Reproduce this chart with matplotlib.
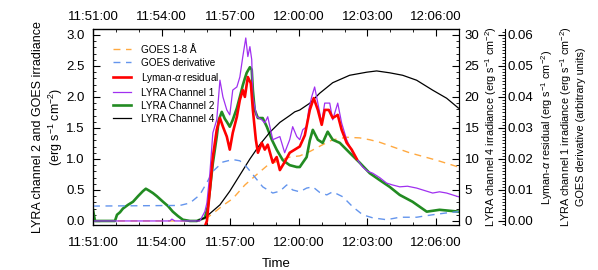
import matplotlib
matplotlib.use('Agg')
import matplotlib.pyplot as plt
from matplotlib.ticker import MultipleLocator, FuncFormatter

# time axis: minutes after 11:51:00
goes_t = [0, 4.67, 4.98, 5.24, 5.68, 6.11, 6.64, 7.16, 7.64, 8.17, 8.60, 9.04, 9.48,
          10.04, 10.48, 11.09, 11.66, 12.10, 12.53, 13.84, 15.02, 15.98]
goes = [0, 0, 0.05, 0.12, 0.25, 0.36, 0.58, 0.75, 0.90, 0.98, 1.03, 1.05, 1.12,
        1.23, 1.31, 1.35, 1.34, 1.31, 1.27, 1.10, 0.98, 0.87]

deriv_t = [0, 3.80, 4.24, 4.67, 4.98, 5.24, 5.68, 6.11, 6.42, 6.72, 7.07, 7.42, 7.86,
           8.17, 8.47, 8.73, 9.04, 9.34, 9.61, 9.91, 10.22, 10.48, 10.92, 11.35,
           11.79, 12.23, 12.84, 13.41, 14.15, 14.85, 15.46, 15.98]
deriv = [0.0048, 0.0050, 0.0058, 0.0084, 0.0124, 0.0160, 0.0190, 0.0198, 0.0194,
         0.0174, 0.0142, 0.0110, 0.0090, 0.0096, 0.0116, 0.0100, 0.0094, 0.0106,
         0.0110, 0.0092, 0.0084, 0.0094, 0.0078, 0.0046, 0.0020, 0.0010, 0.0004,
         0.0012, 0.0012, 0.0020, 0.0026, 0.0030]

lya_t = [4.93, 4.98, 5.11, 5.24, 5.41, 5.55, 5.68, 5.85, 5.98, 6.11, 6.29, 6.42, 6.55,
         6.64, 6.77, 6.90, 6.99, 7.12, 7.21, 7.38, 7.51, 7.64, 7.86, 8.03, 8.17, 8.38,
         8.60, 8.82, 9.04, 9.26, 9.48, 9.65, 9.83, 10.00, 10.13, 10.31, 10.48, 10.70,
         10.87, 11.09, 11.31, 11.53]
lya = [-0.001, 0.0, 0.010, 0.0206, 0.0294, 0.0332, 0.0304, 0.0272, 0.0230, 0.0284,
       0.0336, 0.0390, 0.0422, 0.0400, 0.0464, 0.0444, 0.0358, 0.0262, 0.0220, 0.0252,
       0.0230, 0.0246, 0.0188, 0.0206, 0.0164, 0.0190, 0.0220, 0.0230, 0.0240, 0.0276,
       0.0358, 0.0396, 0.0358, 0.0310, 0.0358, 0.0358, 0.0332, 0.0342, 0.0294, 0.0252,
       0.0230, 0.0200]

ch1_t = [0, 3.36, 3.45, 3.58, 4.67, 4.89, 4.98, 5.11, 5.24, 5.41, 5.55, 5.68, 5.85,
         5.98, 6.11, 6.29, 6.42, 6.55, 6.68, 6.77, 6.86, 6.94, 6.99, 7.16, 7.38, 7.51,
         7.64, 7.86, 8.17, 8.38, 8.60, 8.73, 8.91, 9.04, 9.17, 9.34, 9.43, 9.56, 9.69,
         9.83, 10.00, 10.13, 10.35, 10.48, 10.70, 10.87, 11.09, 11.35, 11.57, 11.79,
         12.01, 12.23, 12.53, 12.84, 13.10, 13.41, 13.75, 14.15, 14.50, 14.85, 15.15,
         15.46, 15.72, 15.98]
ch1 = [0, 0, 0.0006, 0, 0, 0.0030, 0.0058, 0.0154, 0.0284, 0.0326, 0.0454, 0.0400,
       0.0358, 0.0342, 0.0422, 0.0432, 0.0464, 0.0530, 0.0590, 0.0530, 0.0562, 0.0520,
       0.0400, 0.0336, 0.0326, 0.0316, 0.0336, 0.0262, 0.0272, 0.0220, 0.0262, 0.0304,
       0.0272, 0.0262, 0.0294, 0.0304, 0.0358, 0.0400, 0.0432, 0.0380, 0.0316, 0.0380,
       0.0380, 0.0326, 0.0380, 0.0316, 0.0262, 0.0220, 0.0196, 0.0174, 0.0160, 0.0154,
       0.0140, 0.0122, 0.0116, 0.0110, 0.0112, 0.0106, 0.0098, 0.0090, 0.0094, 0.0090,
       0.0084, 0.0078]

ch2_t = [0, 0.09, 0.96, 1.05, 1.18, 1.31, 1.53, 1.75, 1.97, 2.18, 2.31, 2.45, 2.62,
         2.79, 3.06, 3.28, 3.49, 3.71, 3.93, 4.24, 4.54, 4.67, 4.89, 5.02, 5.11, 5.24,
         5.41, 5.50, 5.63, 5.76, 5.85, 5.98, 6.11, 6.29, 6.42, 6.55, 6.64, 6.72, 6.86,
         6.94, 6.99, 7.07, 7.21, 7.42, 7.60, 7.82, 8.03, 8.30, 8.60, 8.91, 9.04, 9.17,
         9.34, 9.48, 9.61, 9.83, 10.04, 10.26, 10.48, 10.79, 11.22, 11.66, 12.10, 12.53,
         12.97, 13.41, 13.97, 14.59, 15.15, 15.72, 15.98]
ch2 = [0.18, 0.0, 0.0, 0.10, 0.14, 0.20, 0.26, 0.31, 0.40, 0.48, 0.52, 0.49, 0.45,
       0.40, 0.31, 0.24, 0.15, 0.08, 0.02, 0.0, 0.0, 0.02, 0.05, 0.23, 0.50, 0.93,
       1.36, 1.63, 1.76, 1.65, 1.60, 1.52, 1.63, 1.82, 2.00, 2.19, 2.30, 2.39, 2.48,
       2.44, 2.11, 1.79, 1.66, 1.66, 1.52, 1.31, 1.15, 0.98, 0.90, 0.87, 0.87, 0.94,
       1.03, 1.30, 1.47, 1.31, 1.26, 1.44, 1.31, 1.26, 1.10, 0.94, 0.77, 0.66,
       0.55, 0.42, 0.31, 0.15, 0.18, 0.16, 0.15]

ch4_t = [4.54, 4.89, 5.11, 5.55, 5.98, 6.42, 6.86, 7.29, 7.73, 8.17, 8.60, 8.82, 9.04,
         9.48, 9.91, 10.48, 11.22, 11.97, 12.40, 12.97, 13.54, 14.15, 14.85, 15.46, 15.98]
ch4 = [0, 0.5, 1.2, 2.6, 4.8, 7.4, 10.0, 12.3, 14.3, 15.9, 17.0, 17.6, 17.9,
       19.0, 20.6, 22.3, 23.5, 24.0, 24.2, 23.9, 23.5, 22.7, 21.1, 19.8, 18.2]

plt.rcParams['font.family'] = 'Liberation Sans'
plt.rcParams['mathtext.fontset'] = 'custom'
plt.rcParams['mathtext.rm'] = 'Liberation Sans'
plt.rcParams['mathtext.it'] = 'Liberation Sans:italic'
plt.rcParams['font.size'] = 9.5

def clock(m, pos):
    tot = 11 * 60 + 51 + int(round(m))
    return '%d:%02d:00' % (tot // 60, tot % 60)

fig = plt.figure(figsize=(5.98, 2.70), dpi=100)
ax = fig.add_axes([0.1555, 0.1667, 0.612, 0.726])
ax4 = ax.twinx()
ax3 = ax.twinx()
ax3.spines['right'].set_position(('axes', 1.126))

dash = (5, 4)
l_goes, = ax.plot(goes_t, goes, color='#FFA940', lw=1.0, dashes=dash)
l_ch2, = ax.plot(ch2_t, ch2, color='#228B22', lw=1.9)
l_ch4, = ax4.plot(ch4_t, ch4, color='black', lw=0.9)
l_der, = ax3.plot(deriv_t, deriv, color='#6495ED', lw=1.0, dashes=dash)
l_ch1, = ax3.plot(ch1_t, ch1, color='#A030F0', lw=0.9)
l_lya, = ax3.plot(lya_t, lya, color='red', lw=1.9)

ax.set_xlim(0, 16)
ax.set_ylim(-0.065, 3.097)
ax4.set_ylim(-0.65, 30.97)
ax3.set_ylim(-0.0013, 0.0619)

ax.xaxis.set_major_locator(MultipleLocator(3))
ax.xaxis.set_minor_locator(MultipleLocator(1))
ax.xaxis.set_major_formatter(FuncFormatter(clock))
ax.yaxis.set_major_locator(MultipleLocator(0.5))
ax.yaxis.set_minor_locator(MultipleLocator(0.1))
ax.yaxis.set_major_formatter(FuncFormatter(lambda v, p: '%.1f' % v))
ax4.yaxis.set_major_locator(MultipleLocator(5))
ax4.yaxis.set_minor_locator(MultipleLocator(1))
ax3.yaxis.set_major_locator(MultipleLocator(0.01))
ax3.yaxis.set_minor_locator(MultipleLocator(0.001))
ax3.yaxis.set_major_formatter(FuncFormatter(lambda v, p: '%.2f' % v))

# top time axis with its own label padding
top = ax.secondary_xaxis('top')
top.xaxis.set_major_locator(MultipleLocator(3))
top.xaxis.set_minor_locator(MultipleLocator(1))
top.xaxis.set_major_formatter(FuncFormatter(clock))

ax.tick_params(axis='x', which='both', direction='in', top=False)
ax.tick_params(axis='y', which='both', direction='in', right=False)
for a in (ax, ax4, ax3, top):
    a.tick_params(which='major', length=5, width=0.8)
    a.tick_params(which='minor', length=2.5, width=0.6)
top.tick_params(which='both', direction='in')
top.tick_params(which='major', pad=4)
ax.tick_params(axis='x', which='major', pad=9)
ax.tick_params(axis='y', pad=6)
ax4.tick_params(which='both', direction='in', pad=4)
ax3.tick_params(which='both', direction='in', pad=2)

ax.set_xlabel('Time', labelpad=6)
ax.set_ylabel('LYRA channel 2 and GOES irradiance\n(erg s$^{-1}$ cm$^{-2}$)',
              labelpad=1, fontsize=9)
ax4.set_ylabel('LYRA channel 4 irradiance (erg s$^{-1}$ cm$^{-2}$)',
               labelpad=3, fontsize=7.8)
ax3.set_ylabel('Lyman-$\\alpha$ residual (erg s$^{-1}$ cm$^{-2}$)\n'
               'LYRA channel 1 irradiance (erg s$^{-1}$ cm$^{-2}$)\n'
               'GOES derivative (arbitrary units)', labelpad=4, fontsize=7.8,
               linespacing=1.25)

handles = [l_goes, l_der, l_lya, l_ch1, l_ch2, l_ch4]
labels = ['GOES 1-8 Å', 'GOES derivative', 'Lyman-$\\alpha$ residual',
          'LYRA Channel 1', 'LYRA Channel 2', 'LYRA Channel 4']
ax3.legend(handles, labels, loc='upper left', bbox_to_anchor=(0.055, 0.92),
           borderaxespad=0, borderpad=0, frameon=False, fontsize=7.2,
           handlelength=1.8, labelspacing=0.3, handletextpad=1.0)

fig.savefig('out.png', dpi=100)
